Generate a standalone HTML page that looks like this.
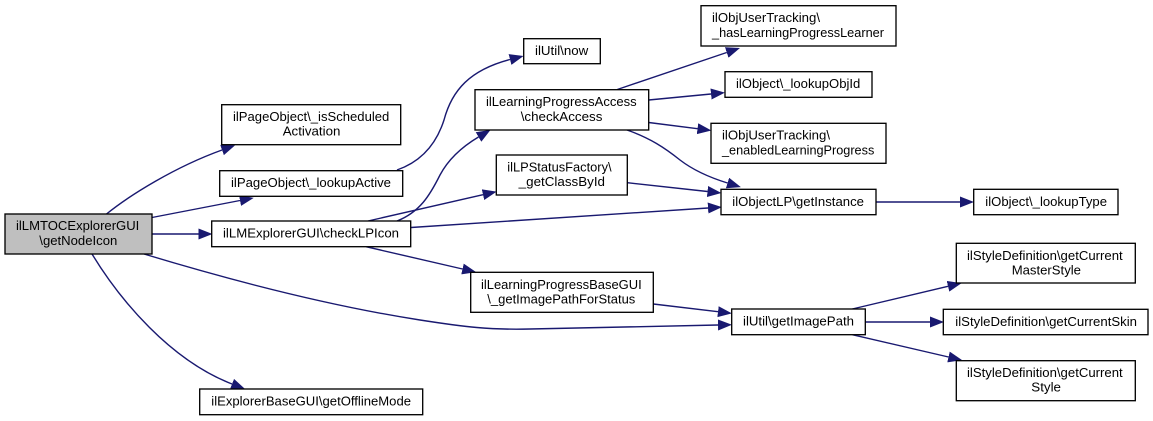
<!DOCTYPE html>
<html>
<head>
<meta charset="utf-8">
<style>
html,body{margin:0;padding:0;background:#fff;width:1153px;height:421px;overflow:hidden}
svg{position:absolute;left:0;top:0;display:block}
text{font-family:"Liberation Sans",sans-serif;font-size:13.33px;fill:#000;text-anchor:start}
.n{fill:#fff;stroke:#000;stroke-width:1.33}
.e{fill:none;stroke:#191970;stroke-width:1.4;marker-end:url(#a)}
</style>
</head>
<body>
<svg width="1153" height="421" viewBox="0 0 1153 421" xmlns="http://www.w3.org/2000/svg">
<defs>
<marker id="a" markerUnits="userSpaceOnUse" markerWidth="16" markerHeight="13" refX="0" refY="5.5" orient="auto">
<path d="M0,0 L14,5.5 L0,11 Z" fill="#191970"/>
</marker>
</defs>

<!-- edges -->
<path class="e" d="M106.5,214 C130,195 175,167 222,150"/>
<path class="e" d="M152,217.5 L240,200.5"/>
<path class="e" d="M152,234 L198.5,234"/>
<path class="e" d="M144,254 C230,280 330,306 420,320 C465,327 490,330 530,329 C600,328 660,326 718,325"/>
<path class="e" d="M92,254 C120,300 170,360 232,384"/>
<path class="e" d="M397,170 C420,162 436,145 444,120 C452,90 470,70 510,59.5"/>
<path class="e" d="M397,221 C420,212 430,195 440,175 C448,160 460,148 478.5,137"/>
<path class="e" d="M368,221 L483,194.7"/>
<path class="e" d="M411,227.5 L708,208"/>
<path class="e" d="M366,246.7 L462.5,269"/>
<path class="e" d="M617.3,89.5 L726.7,52.5"/>
<path class="e" d="M648.7,100 L711,94"/>
<path class="e" d="M648.7,122.5 L697.5,128.7"/>
<path class="e" d="M627,130 C650,138 665,148 680,160 C693,170 708,177 727.5,183"/>
<path class="e" d="M627.3,182.7 L707.5,191.5"/>
<path class="e" d="M653.3,304 L718,311.7"/>
<path class="e" d="M876,202 L960,202"/>
<path class="e" d="M852.3,309 L948,286.3"/>
<path class="e" d="M865.3,322 L930,322"/>
<path class="e" d="M852.3,334.7 L948.5,357"/>

<!-- nodes -->
<rect x="5" y="214" width="147" height="40" fill="#bfbfbf" stroke="#000" stroke-width="1.33"/>
<text x="16" y="230" textLength="123.3" lengthAdjust="spacingAndGlyphs">ilLMTOCExplorerGUI</text>
<text x="39.3" y="245" textLength="78" lengthAdjust="spacingAndGlyphs">\getNodeIcon</text>

<rect class="n" x="221.7" y="104.7" width="179" height="40"/>
<text x="233" y="121" textLength="156.3" lengthAdjust="spacingAndGlyphs">ilPageObject\_isScheduled</text>
<text x="282.7" y="135.5" textLength="57.7" lengthAdjust="spacingAndGlyphs">Activation</text>

<rect class="n" x="219.7" y="170.7" width="183" height="25.6"/>
<text x="231" y="187" textLength="160" lengthAdjust="spacingAndGlyphs">ilPageObject\_lookupActive</text>

<rect class="n" x="211.7" y="221" width="199" height="25.7"/>
<text x="223" y="237.5" textLength="176" lengthAdjust="spacingAndGlyphs">ilLMExplorerGUI\checkLPIcon</text>

<rect class="n" x="199.7" y="389" width="223" height="25.7"/>
<text x="211.3" y="405.5" textLength="199.7" lengthAdjust="spacingAndGlyphs">ilExplorerBaseGUI\getOfflineMode</text>

<rect class="n" x="523.7" y="38.7" width="76.6" height="25"/>
<text x="535" y="55" textLength="53.3" lengthAdjust="spacingAndGlyphs">ilUtil\now</text>

<rect class="n" x="475" y="89.7" width="173.7" height="40.3"/>
<text x="486" y="106" textLength="150.7" lengthAdjust="spacingAndGlyphs">ilLearningProgressAccess</text>
<text x="520.7" y="121" textLength="81.7" lengthAdjust="spacingAndGlyphs">\checkAccess</text>

<rect class="n" x="496.3" y="155" width="131" height="40"/>
<text x="507.3" y="171.5" textLength="104.3" lengthAdjust="spacingAndGlyphs">ilLPStatusFactory\</text>
<text x="518.7" y="186" textLength="86.3" lengthAdjust="spacingAndGlyphs">_getClassById</text>

<rect class="n" x="470.7" y="272.3" width="182.6" height="40"/>
<text x="481" y="289" textLength="160.7" lengthAdjust="spacingAndGlyphs">ilLearningProgressBaseGUI</text>
<text x="487.3" y="303.5" textLength="148" lengthAdjust="spacingAndGlyphs">\_getImagePathForStatus</text>

<rect class="n" x="701" y="5.7" width="195" height="40.3"/>
<text x="712" y="22" textLength="108" lengthAdjust="spacingAndGlyphs">ilObjUserTracking\</text>
<text x="712" y="37" textLength="172" lengthAdjust="spacingAndGlyphs">_hasLearningProgressLearner</text>

<rect class="n" x="725" y="71.7" width="147" height="25.6"/>
<text x="736" y="88" textLength="124.3" lengthAdjust="spacingAndGlyphs">ilObject\_lookupObjId</text>

<rect class="n" x="711" y="123.3" width="175" height="40"/>
<text x="722" y="139.5" textLength="108" lengthAdjust="spacingAndGlyphs">ilObjUserTracking\</text>
<text x="722" y="154.5" textLength="152.3" lengthAdjust="spacingAndGlyphs">_enabledLearningProgress</text>

<rect class="n" x="721" y="189.3" width="155" height="25.4"/>
<text x="732.3" y="206" textLength="131.7" lengthAdjust="spacingAndGlyphs">ilObjectLP\getInstance</text>

<rect class="n" x="973.7" y="189.3" width="144.3" height="25.4"/>
<text x="985.3" y="206" textLength="121.7" lengthAdjust="spacingAndGlyphs">ilObject\_lookupType</text>

<rect class="n" x="731.7" y="309" width="133.6" height="25.7"/>
<text x="743" y="325.5" textLength="111" lengthAdjust="spacingAndGlyphs">ilUtil\getImagePath</text>

<rect class="n" x="956.3" y="243.3" width="179" height="39.7"/>
<text x="967" y="260" textLength="155.7" lengthAdjust="spacingAndGlyphs">ilStyleDefinition\getCurrent</text>
<text x="1011.7" y="274.5" textLength="69.3" lengthAdjust="spacingAndGlyphs">MasterStyle</text>

<rect class="n" x="943.3" y="309.3" width="204.7" height="25.4"/>
<text x="955.3" y="326" textLength="181.7" lengthAdjust="spacingAndGlyphs">ilStyleDefinition\getCurrentSkin</text>

<rect class="n" x="956.3" y="360.7" width="179" height="40"/>
<text x="967" y="377" textLength="155.7" lengthAdjust="spacingAndGlyphs">ilStyleDefinition\getCurrent</text>
<text x="1031.3" y="391.5" textLength="29.7" lengthAdjust="spacingAndGlyphs">Style</text>
</svg>
</body>
</html>
